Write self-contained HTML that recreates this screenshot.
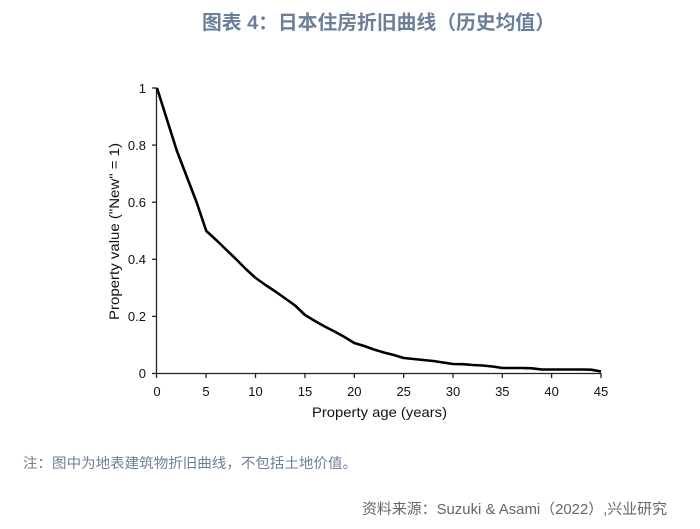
<!DOCTYPE html>
<html><head><meta charset="utf-8"><style>
html,body{margin:0;padding:0;background:#fff;}
svg{display:block;}
</style></head><body>
<svg width="700" height="529" viewBox="0 0 700 529" xmlns="http://www.w3.org/2000/svg">
<rect width="700" height="529" fill="#fff"/>
<text x="202" y="29" font-family="'Liberation Sans','Noto Sans CJK SC',sans-serif" font-size="19.5" font-weight="bold" fill="#6b7f9a" textLength="353" lengthAdjust="spacingAndGlyphs">图表 4：日本住房折旧曲线（历史均值）</text>

<g stroke="#222" stroke-width="1.3" fill="none">
<line x1="156.5" y1="88" x2="156.5" y2="374"/>
<line x1="156" y1="373.5" x2="601.5" y2="373.5"/>
<line x1="152" y1="88" x2="157" y2="88"/>
<line x1="152" y1="145.1" x2="157" y2="145.1"/>
<line x1="152" y1="202.2" x2="157" y2="202.2"/>
<line x1="152" y1="259.3" x2="157" y2="259.3"/>
<line x1="152" y1="316.4" x2="157" y2="316.4"/>
<line x1="152" y1="373.5" x2="157" y2="373.5"/>
<line x1="156.5" y1="373" x2="156.5" y2="378"/>
<line x1="206" y1="373" x2="206" y2="378"/>
<line x1="255.5" y1="373" x2="255.5" y2="378"/>
<line x1="305" y1="373" x2="305" y2="378"/>
<line x1="354.3" y1="373" x2="354.3" y2="378"/>
<line x1="403.7" y1="373" x2="403.7" y2="378"/>
<line x1="453" y1="373" x2="453" y2="378"/>
<line x1="502.3" y1="373" x2="502.3" y2="378"/>
<line x1="551.6" y1="373" x2="551.6" y2="378"/>
<line x1="601" y1="373" x2="601" y2="378"/>
</g>

<g font-family="'Liberation Sans',Arial,sans-serif" font-size="13" fill="#111" text-anchor="end">
<text x="146" y="93">1</text>
<text x="146" y="150">0.8</text>
<text x="146" y="207">0.6</text>
<text x="146" y="264">0.4</text>
<text x="146" y="321">0.2</text>
<text x="146" y="378">0</text>
</g>
<g font-family="'Liberation Sans',Arial,sans-serif" font-size="13" fill="#111" text-anchor="middle">
<text x="157" y="396">0</text>
<text x="206" y="396">5</text>
<text x="255.5" y="396">10</text>
<text x="305" y="396">15</text>
<text x="354.3" y="396">20</text>
<text x="403.7" y="396">25</text>
<text x="453" y="396">30</text>
<text x="502.3" y="396">35</text>
<text x="551.6" y="396">40</text>
<text x="601" y="396">45</text>
</g>
<text x="312" y="417" font-family="'Liberation Sans',Arial,sans-serif" font-size="14" fill="#111" textLength="135" lengthAdjust="spacingAndGlyphs">Property age (years)</text>
<text transform="translate(119,320) rotate(-90)" x="0" y="0" font-family="'Liberation Sans',Arial,sans-serif" font-size="14" fill="#111" textLength="177" lengthAdjust="spacingAndGlyphs">Property value ("New" = 1)</text>

<polyline fill="none" stroke="#000" stroke-width="2.6" stroke-linejoin="round" points="157,88 176.7,150.4 196.5,202 206.3,231 216.2,240 226,249.5 235.9,259 245.8,269 255.7,278 265.5,285 275.4,291.5 285.3,298.5 295.1,305.5 305,315 314.9,321 324.7,326.5 334.6,331.5 344.5,337 354.3,343 364.2,346 374,349.5 383.9,352.5 393.8,355 403.7,358 413.5,359 423.4,360 433.3,361 443.1,362.5 453,364 462.9,364.2 472.7,365 482.6,365.5 492.5,366.5 502.3,368 512.2,368 522,368 531.9,368.3 541.8,369.5 551.6,369.5 561.5,369.5 571.4,369.5 581.3,369.5 591.2,369.7 601,371.5"/>

<text x="23" y="468" font-family="'Liberation Sans','Noto Sans CJK SC',sans-serif" font-size="14" fill="#6e7f99" textLength="334" lengthAdjust="spacingAndGlyphs">注：图中为地表建筑物折旧曲线，不包括土地价值。</text>
<text x="362" y="514" font-family="'Liberation Sans','Noto Sans CJK SC',sans-serif" font-size="14.5" fill="#666" textLength="305" lengthAdjust="spacingAndGlyphs">资料来源：Suzuki &amp; Asami（2022）,兴业研究</text>
</svg>
</body></html>
